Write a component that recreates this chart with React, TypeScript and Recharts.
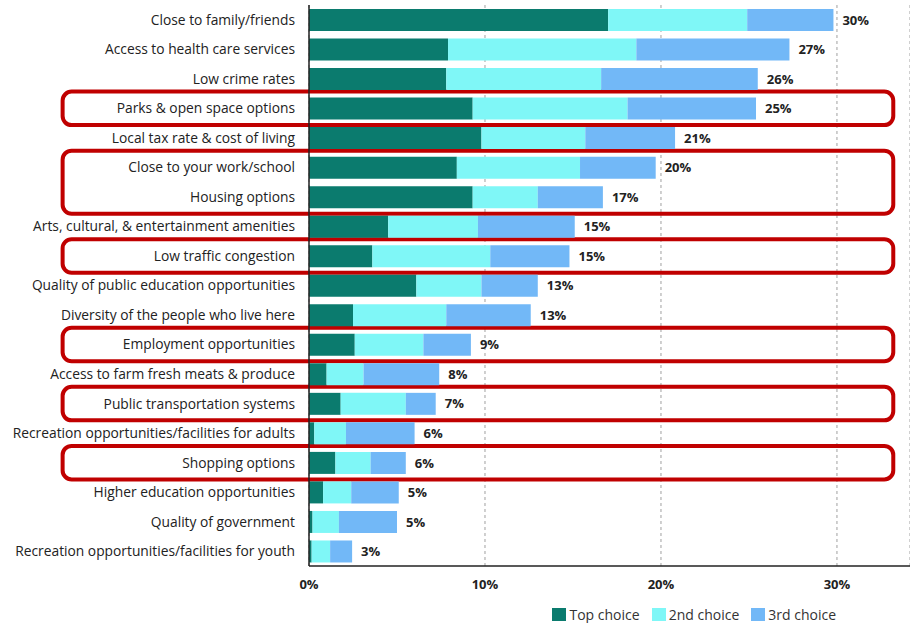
import { Bar, BarChart, CartesianGrid, LabelList, Legend, ReferenceArea, XAxis, YAxis } from "recharts";

const categories = [
  "Close to family/friends",
  "Access to health care services",
  "Low crime rates",
  "Parks & open space options",
  "Local tax rate & cost of living",
  "Close to your work/school",
  "Housing options",
  "Arts, cultural, & entertainment amenities",
  "Low traffic congestion",
  "Quality of public education opportunities",
  "Diversity of the people who live here",
  "Employment opportunities",
  "Access to farm fresh meats & produce",
  "Public transportation systems",
  "Recreation opportunities/facilities for adults",
  "Shopping options",
  "Higher education opportunities",
  "Quality of government",
  "Recreation opportunities/facilities for youth",
];

const topChoice = [17.0, 7.9, 7.8, 9.3, 9.8, 8.4, 9.3, 4.5, 3.6, 6.1, 2.5, 2.6, 1.0, 1.8, 0.3, 1.5, 0.8, 0.2, 0.15];
const secondChoice = [7.9, 10.7, 8.8, 8.8, 5.9, 7.0, 3.7, 5.1, 6.7, 3.7, 5.3, 3.9, 2.1, 3.7, 1.8, 2.0, 1.6, 1.5, 1.05];
const thirdChoice = [4.9, 8.7, 8.9, 7.3, 5.1, 4.3, 3.7, 5.5, 4.5, 3.2, 4.8, 2.7, 4.3, 1.7, 3.9, 2.0, 2.7, 3.3, 1.25];
const totalLabels = ["30%", "27%", "26%", "25%", "21%", "20%", "17%", "15%", "15%", "13%", "13%", "9%", "8%", "7%", "6%", "6%", "5%", "5%", "3%"];

const xTicks = [0, 10, 20, 30];

const seriesNames = ["Top choice", "2nd choice", "3rd choice"];
const seriesColors = ["#0b7b6e", "#7ff7f7", "#72b8f7"];

// red annotation boxes: [first category, last category]
const highlights = [
  ["Parks & open space options", "Parks & open space options"],
  ["Close to your work/school", "Housing options"],
  ["Low traffic congestion", "Low traffic congestion"],
  ["Employment opportunities", "Employment opportunities"],
  ["Public transportation systems", "Public transportation systems"],
  ["Shopping options", "Shopping options"],
];

const data = categories.map((name, i) => ({
  name,
  top: topChoice[i],
  second: secondChoice[i],
  third: thirdChoice[i],
  label: totalLabels[i],
}));

const FONT = "'Open Sans', 'Liberation Sans', sans-serif";

const HighlightBox = (props: any) => {
  const { x, y, width, height } = props;
  return (
    <rect
      x={x}
      y={y - 2}
      width={width}
      height={height + 4}
      rx={9}
      ry={9}
      fill="none"
      stroke="#c00000"
      strokeWidth={4}
    />
  );
};

const LegendContent = () => (
  <div style={{ display: "flex", justifyContent: "flex-end", paddingRight: 74, paddingTop: 4, fontSize: 14, color: "#333", fontFamily: FONT }}>
    {seriesNames.map((n, i) => (
      <span key={n} style={{ display: "flex", alignItems: "center", marginLeft: 12 }}>
        <span style={{ width: 14, height: 13, background: seriesColors[i], marginRight: 3, display: "inline-block" }} />
        {n}
      </span>
    ))}
  </div>
);

export default function App() {
  return (
    <div style={{ position: "absolute", left: 0, top: 0, width: 910, height: 623, background: "#fff", fontFamily: FONT }}>
      <BarChart
        width={910}
        height={623}
        data={data}
        layout="vertical"
        margin={{ top: 5, right: 0, left: 0, bottom: 0 }}
        barCategoryGap={4}
      >
        <CartesianGrid horizontal={false} stroke="#a0a0a0" strokeDasharray="3 3" />
        <XAxis
          type="number"
          domain={[0, 34.15]}
          ticks={xTicks}
          tickFormatter={(v) => `${v}%`}
          axisLine={{ stroke: "#222", strokeWidth: 1.5 }}
          tickLine={false}
          tickSize={0}
          tickMargin={14}
          height={35}
          tick={{ fill: "#222", fontSize: 13, fontWeight: 700, fontFamily: FONT }}
        />
        <XAxis
          xAxisId="top"
          orientation="top"
          type="number"
          domain={[0, 34.15]}
          height={0}
          tick={false}
          tickLine={false}
          axisLine={{ stroke: "#555", strokeWidth: 1.5 }}
        />
        <YAxis
          type="category"
          dataKey="name"
          width={309}
          interval={0}
          axisLine={{ stroke: "#222", strokeWidth: 1.5 }}
          tickLine={false}
          tickSize={0}
          tickMargin={14}
          tick={{ fill: "#222", fontSize: 13.8, fontFamily: FONT }}
        />
        <Legend verticalAlign="bottom" height={22} content={LegendContent} />
        <Bar dataKey="top" name={seriesNames[0]} stackId="a" fill={seriesColors[0]} isAnimationActive={false} />
        <Bar dataKey="second" name={seriesNames[1]} stackId="a" fill={seriesColors[1]} isAnimationActive={false} />
        <Bar dataKey="third" name={seriesNames[2]} stackId="a" fill={seriesColors[2]} isAnimationActive={false}>
          <LabelList
            dataKey="label"
            position="right"
            offset={9}
            style={{ fill: "#222", fontSize: 13, fontWeight: 700, fontFamily: FONT }}
          />
        </Bar>
        {highlights.map(([a, b]) => (
          <ReferenceArea
            key={a}
            y1={a}
            y2={b}
            x1={-14}
            x2={33.2}
            ifOverflow="visible"
            shape={HighlightBox}
          />
        ))}
      </BarChart>
    </div>
  );
}
